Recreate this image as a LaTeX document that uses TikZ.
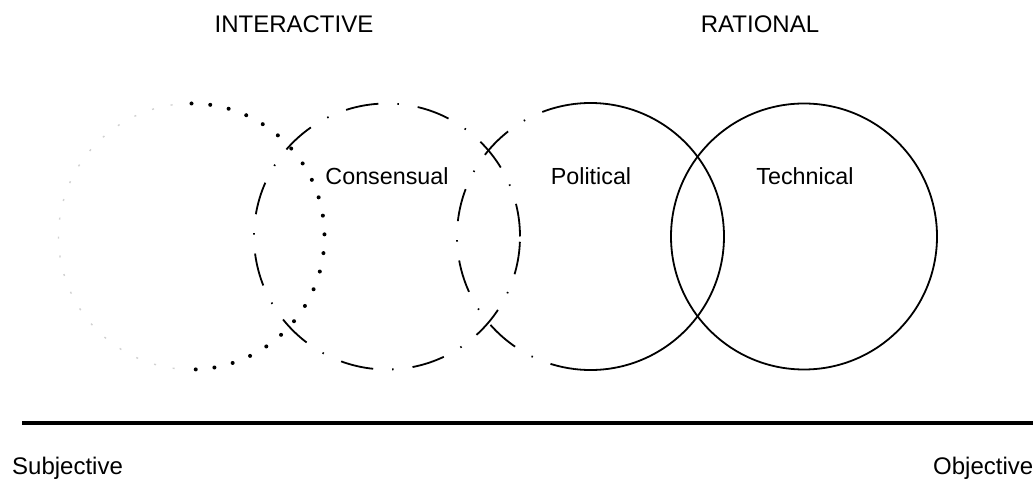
\documentclass[tikz,border=0pt]{standalone}
\usepackage{fontspec}
\setmainfont{Liberation Sans}
\begin{document}
\begin{tikzpicture}[x=1pt,y=1pt,
  solidline/.style={line width=1.8pt},
  dashdotline/.style={line width=1.8pt, dash pattern=on 33pt off 19pt on 1.5pt off 19pt},
  dotline/.style={line width=4pt, line cap=round, dash pattern=on 0pt off 18.8pt},
  faintline/.style={line width=1.4pt, draw=black!18, dash pattern=on 2pt off 17pt},
  outerlabel/.style={anchor=base, font=\fontsize{24}{28}\selectfont, inner sep=0pt},
  innerlabel/.style={anchor=base, font=\fontsize{23.3}{27}\selectfont, inner sep=0pt}]
\useasboundingbox (0,0) rectangle (1033,479);
\coordinate (c1) at (191.5,242.5);
\coordinate (c2) at (387,242.5);
\coordinate (c3) at (590.5,242.5);
\coordinate (c4) at (804,242.5);
% circle 1: faint left half, dotted right half
\draw[faintline] ([shift={(90:133)}]c1) arc[start angle=90, end angle=270, radius=133];
\draw[dotline] ([shift={(90:133)}]c1) arc[start angle=90, end angle=-92, radius=133];
% circle 2: dash-dot
\draw[dashdotline] (c2) circle[radius=133];
% circle 3: dash-dot left, solid right
\draw[dashdotline] ([shift={(97:133.5)}]c3) arc[start angle=97, end angle=263, radius=133.5];
\draw[solidline] ([shift={(-97:133.5)}]c3) arc[start angle=-97, end angle=97, radius=133.5];
% circle 4: solid
\draw[solidline] (c4) circle[radius=133];
% axis
\coordinate (axL) at (22,56);
\coordinate (axR) at (1033,56);
\draw[line width=3.2pt] (axL) -- (axR);
% labels
\node[outerlabel] (interactive) at (294,446) {INTERACTIVE};
\node[outerlabel] (rational) at (760,446) {RATIONAL};
\node[innerlabel] (consensual) at (387,294) {Consensual};
\node[innerlabel] (political) at (591,294) {Political};
\node[innerlabel] (technical) at (805,294) {Technical};
\node[outerlabel, anchor=base west] (subjective) at (12,5) {Subjective};
\node[outerlabel, anchor=base west] (objective) at (933,5) {Objective};
\end{tikzpicture}
\end{document}
